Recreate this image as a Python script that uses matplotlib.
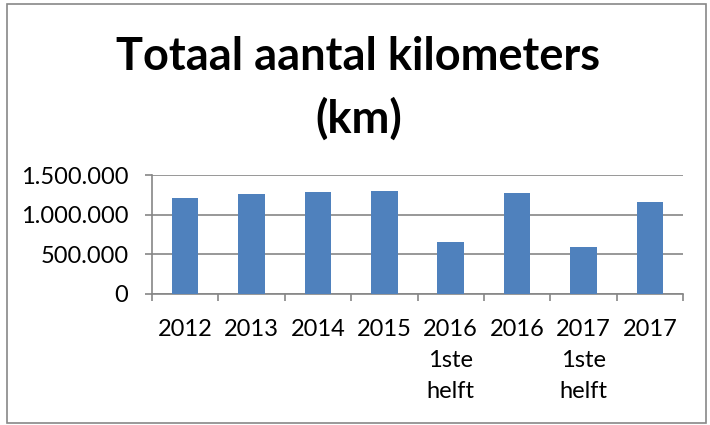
import matplotlib
matplotlib.use("Agg")
import matplotlib.pyplot as plt
from matplotlib.patches import Rectangle
from matplotlib.ticker import FuncFormatter

# Values
categories = ["2012", "2013", "2014", "2015", "2016\n1ste\nhelft",
              "2016", "2017\n1ste\nhelft", "2017"]
kilometers = [1210000, 1261000, 1287000, 1300000, 660000, 1274000, 597000, 1155000]
y_ticks = [0, 500000, 1000000, 1500000]

BAR_COLOR = "#4F81BD"
GRID_COLOR = "#868686"
FONT = "Lato"


def dutch_thousands(v, _pos):
    return f"{int(v):,}".replace(",", ".")


fig = plt.figure(figsize=(7.1, 4.25), dpi=100)
fig.patches.append(Rectangle((7 / 710, 2 / 425), 699 / 710, 419 / 425,
                             transform=fig.transFigure, fill=False,
                             edgecolor="#888888", linewidth=1.2))

fig.text(0.505, 1 - 88 / 425, "Totaal aantal kilometers\n(km)",
         ha="center", va="center", fontsize=32.5, fontweight="bold",
         family=FONT, linespacing=1.55)

ax = fig.add_axes((152 / 710, 1 - 294 / 425, 531 / 710, 119 / 425))
x = range(len(categories))
ax.bar(x, kilometers, width=0.4, color=BAR_COLOR, zorder=3)
ax.set_xlim(-0.5, len(categories) - 0.5)
ax.set_ylim(0, 1500000)
ax.set_yticks(y_ticks)
ax.yaxis.set_major_formatter(FuncFormatter(dutch_thousands))
ax.yaxis.grid(True, color=GRID_COLOR, linewidth=1.2, zorder=0)

# category boundaries as tick marks, labels in the middle
ax.set_xticks([i - 0.5 for i in range(len(categories) + 1)])
ax.set_xticklabels([])
ax.set_xticks(list(x), minor=True)
ax.set_xticklabels(categories, minor=True, family=FONT, fontsize=17,
                   va="top", linespacing=1.6)
ax.tick_params(axis="x", which="minor", length=0, pad=18)
ax.tick_params(axis="x", which="major", length=5, width=1.2, color=GRID_COLOR)
ax.tick_params(axis="y", length=5, width=1.2, color=GRID_COLOR, pad=12,
               labelsize=17)
for lab in ax.get_yticklabels():
    lab.set_family(FONT)

for side in ("top", "right"):
    ax.spines[side].set_visible(False)
for side in ("left", "bottom"):
    ax.spines[side].set_color(GRID_COLOR)
    ax.spines[side].set_linewidth(1.2)

fig.savefig("out.png", dpi=100)
